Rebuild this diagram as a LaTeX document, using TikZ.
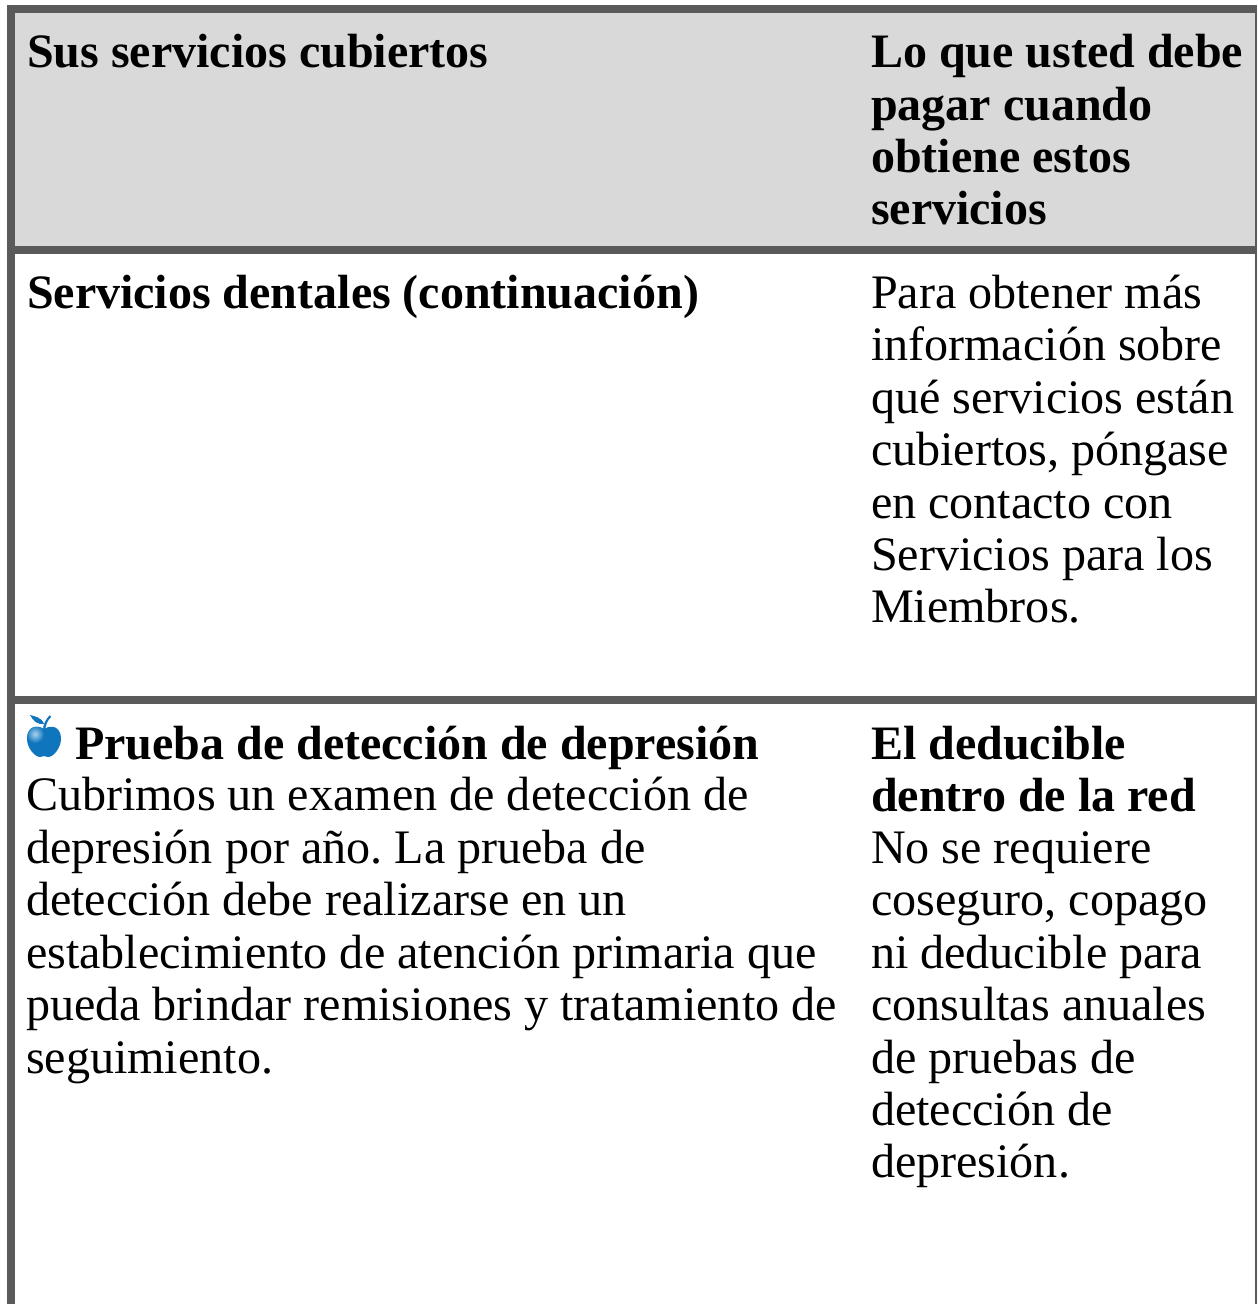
\documentclass[tikz,border=0pt]{standalone}
\usepackage{fontspec}
\setmainfont{Liberation Serif}
\frenchspacing
\definecolor{frame}{HTML}{5A5A5A}
\definecolor{head}{HTML}{D9D9D9}
\definecolor{appleblue}{HTML}{0F76BE}
\definecolor{applelight}{HTML}{A9D2EE}
\tikzset{
  txt/.style={anchor=base west,inner sep=0pt,outer sep=0pt,font=\fontsize{24.05}{28}\selectfont},
  btxt/.style={txt,font=\fontsize{24}{28}\selectfont\bfseries},
  band/.style={fill=frame,draw=none}
}
\begin{document}
\begin{tikzpicture}[x=0.5pt,y=-0.5pt]
\useasboundingbox (0,0) rectangle (1257,1304);
\fill[white] (0,0) rectangle (1257,1304);
\fill[head] (15,13) rectangle (1255,246);
\fill[band] (7,5) rectangle (1257,13);
\fill[band] (7,5) rectangle (15,1304);
\fill[band] (1255,5) rectangle (1257,1304);
\fill[band] (7,246) rectangle (1257,254);
\fill[band] (7,696) rectangle (1257,704);
% apple
\fill[appleblue] (44,729) .. controls (36,724) and (27,727) .. (27,739) .. controls (27,748) and (35,757) .. (40,757) .. controls (42,757) and (43,756) .. (44,756) .. controls (45,756) and (46,757) .. (48,757) .. controls (54,757) and (61,747) .. (61,739) .. controls (61,727) and (52,724) .. (44,729) -- cycle;
\begin{scope}
\clip (44,729) .. controls (36,724) and (27,727) .. (27,739) .. controls (27,748) and (35,757) .. (40,757) -- (44,745) -- cycle;
\shade[inner color=applelight,outer color=appleblue] (35,734) circle (9);
\end{scope}
\fill[appleblue] (30,715) .. controls (33,716) and (42,717) .. (44,724) .. controls (38,725) and (33,721) .. (30,715) -- cycle;
\fill[appleblue] (43,730) .. controls (43,724) and (46,719) .. (50,715) -- (51,717) .. controls (47,721) and (46,725) .. (45,730) -- cycle;
% header
\node[btxt] (h1) at (27,68) {Sus servicios cubiertos};
\node[btxt] (h2) at (871,68) {Lo que usted debe};
\node[btxt] (h3) at (871,121) {pagar cuando};
\node[btxt] (h4) at (871,173) {obtiene estos};
\node[btxt] (h5) at (871,225) {servicios};
% row 1
\node[btxt] (a1) at (27,309) {Servicios dentales (continuación)};
\node[txt] (b1) at (871,309) {Para obtener más};
\node[txt] (b2) at (871,361) {información sobre};
\node[txt] (b3) at (871,414) {qué servicios están};
\node[txt] (b4) at (871,465) {cubiertos, póngase};
\node[txt] (b5) at (871,518) {en contacto con};
\node[txt] (b6) at (871,570) {Servicios para los};
\node[txt] (b7) at (871,622) {Miembros.};
% row 2
\node[btxt] (c0) at (75,759) {Prueba de detección de depresión};
\node[txt] (c1) at (26,810) {Cubrimos un examen de detección de};
\node[txt] (c2) at (26,863) {depresión por año. La prueba de};
\node[txt] (c3) at (26,915) {detección debe realizarse en un};
\node[txt] (c4) at (26,968) {establecimiento de atención primaria que};
\node[txt] (c5) at (26,1020) {pueda brindar remisiones y tratamiento de};
\node[txt] (c6) at (26,1073) {seguimiento.};
\node[btxt] (d1) at (871,759) {El deducible};
\node[btxt] (d2) at (871,811) {dentro de la red};
\node[txt] (d3) at (871,863) {No se requiere};
\node[txt] (d4) at (871,915) {coseguro, copago};
\node[txt] (d5) at (871,968) {ni deducible para};
\node[txt] (d6) at (871,1020) {consultas anuales};
\node[txt] (d7) at (871,1073) {de pruebas de};
\node[txt] (d8) at (871,1125) {detección de};
\node[txt] (d9) at (871,1177) {depresión.};
\end{tikzpicture}
\end{document}
